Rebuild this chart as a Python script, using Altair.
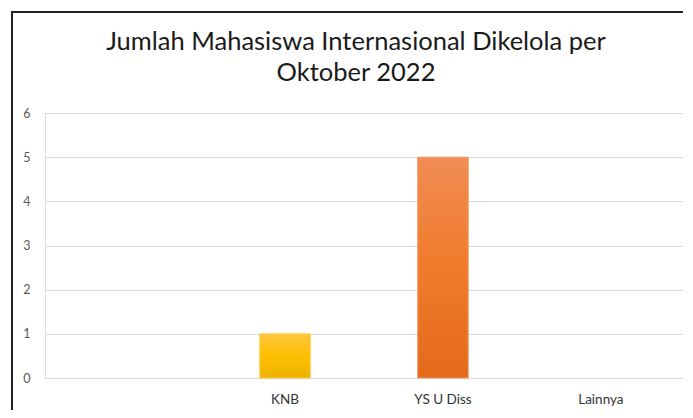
import altair as alt
import pandas as pd

categories = [" ", "KNB", "YS U Diss", "Lainnya"]
values = [0, 1, 5, 0]
title_lines = ["Jumlah Mahasiswa Internasional Dikelola per", "Oktober 2022"]
y_ticks = [0, 1, 2, 3, 4, 5, 6]

df = pd.DataFrame({"kategori": categories, "jumlah": values})

FONT = "Lato"

x_enc = alt.X(
    "kategori:N",
    sort=categories,
    scale=alt.Scale(domain=categories, paddingInner=0.68, paddingOuter=0.36),
    axis=alt.Axis(title=None, labelAngle=0, domain=False, ticks=False,
                  labelPadding=14, labelFontSize=13.5, labelColor="#333333",
                  labelFont=FONT, grid=False),
)
y_enc = alt.Y(
    "jumlah:Q",
    scale=alt.Scale(domain=[0, 6], nice=False),
    axis=alt.Axis(title=None, values=y_ticks, domain=False, ticks=False,
                  labelPadding=15, labelFontSize=12.5, labelColor="#595959",
                  labelFont=FONT, grid=True, gridColor="#d9d9d9", gridWidth=1.2),
)

base = alt.Chart(df)

grad_knb = alt.LinearGradient(
    gradient="linear", x1=0, x2=0, y1=0, y2=1,
    stops=[alt.GradientStop(color="#FFC540", offset=0),
           alt.GradientStop(color="#FFC000", offset=0.5),
           alt.GradientStop(color="#EDB200", offset=1)],
)
grad_ysu = alt.LinearGradient(
    gradient="linear", x1=0, x2=0, y1=0, y2=1,
    stops=[alt.GradientStop(color="#F08C55", offset=0),
           alt.GradientStop(color="#F07B2A", offset=0.5),
           alt.GradientStop(color="#E46A1A", offset=1)],
)

grid_layer = base.mark_bar(opacity=0).encode(x=x_enc, y=y_enc)

knb = base.transform_filter(alt.datum.kategori == "KNB").mark_bar(
    color=grad_knb, stroke="#FFD040", strokeWidth=1
).encode(x=x_enc, y=y_enc)

ysu = base.transform_filter(alt.datum.kategori == "YS U Diss").mark_bar(
    color=grad_ysu, stroke="#F39A66", strokeWidth=1
).encode(x=x_enc, y=y_enc)

frame_left = alt.Chart(df).mark_rule(color="#222222", strokeWidth=2).encode(
    x=alt.value(-33), y=alt.value(-101), y2=alt.value(320)
)
frame_top = alt.Chart(df).mark_rule(color="#222222", strokeWidth=2).encode(
    x=alt.value(-34), x2=alt.value(700), y=alt.value(-101)
)

chart = alt.layer(grid_layer, knb, ysu, frame_left, frame_top).properties(
    width=638,
    height=265,
    title=alt.TitleParams(
        text=title_lines, font=FONT, fontSize=25.5, fontWeight="normal",
        color="#1a1a1a", anchor="middle", offset=22, lineHeight=31, dx=-8, dy=97,
    ),
    autosize=alt.AutoSizeParams(type="none"),
    padding={"left": 37, "top": 105, "right": 0, "bottom": 32},
).configure_view(stroke=None).configure(background="white")

chart.save("out.html", embed_options={"renderer": "svg", "actions": False})
